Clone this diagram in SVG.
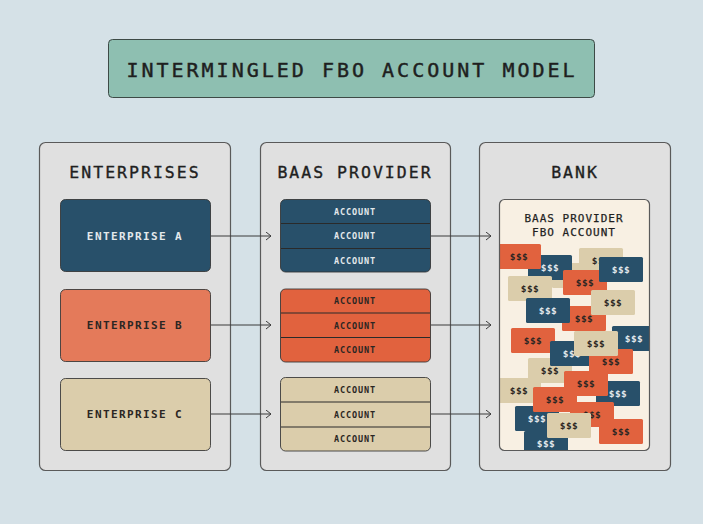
<svg xmlns="http://www.w3.org/2000/svg" width="703" height="524" viewBox="0 0 703 524">
<defs>
<style>
text{font-family:"DejaVu Sans Mono","Liberation Mono",monospace;text-anchor:middle}
.title{font-size:20px;letter-spacing:3px;fill:#1f1f1f;stroke:#1f1f1f;stroke-width:0.45}
.head{font-size:16.5px;letter-spacing:2px;fill:#1f1f1f;stroke:#1f1f1f;stroke-width:0.35}
.ent{font-size:11px;font-weight:bold;letter-spacing:1.4px}
.acc{font-size:8.5px;font-weight:bold;letter-spacing:0.9px}
.sub{font-size:11px;letter-spacing:1px;fill:#1f1f1f;stroke:#1f1f1f;stroke-width:0.25}
.cash{font-size:9.5px;font-weight:bold;letter-spacing:0.5px}
.panel{fill:#e0e0e0;stroke:#5a5a5a;stroke-width:1.2}
.blue{fill:#28506a}
.orange{fill:#e1623e}
.tan{fill:#dbcdab}
.entb{fill:#e47a5a}
.edge{stroke:#333;stroke-width:1;stroke-opacity:0.85}
.div{stroke:#2a2a2a;stroke-width:1.2}
.lt{fill:#e3e9ec}
.dk{fill:#2b2623}
.note rect{stroke:#3a3a3a;stroke-width:1;stroke-opacity:0.8}
.conn{stroke:#3a3a3a;stroke-width:1;fill:none}
</style>
<marker id="arr" markerUnits="userSpaceOnUse" markerWidth="8" markerHeight="10" refX="5" refY="4" orient="auto">
<path d="M0,0 L5,4 L0,8" fill="none" stroke="#3a3a3a" stroke-width="1"/>
</marker>
<clipPath id="bankclip"><rect x="499" y="199" width="151" height="252" rx="5"/></clipPath>
<g id="n-b"><rect width="44" height="25" rx="1.5" class="blue"/><text x="22" y="16" class="cash lt">$$$</text></g>
<g id="n-o"><rect width="44" height="25" rx="1.5" class="orange"/><text x="22" y="16" class="cash dk">$$$</text></g>
<g id="n-t"><rect width="44" height="25" rx="1.5" class="tan"/><text x="22" y="16" class="cash dk">$$$</text></g>
</defs>
<rect width="703" height="524" fill="#d5e1e7"/>

<g id="title">
<rect x="108.5" y="39.5" width="486" height="58" rx="4" fill="#8ebfb1" stroke="#3d4a46" stroke-width="1"/>
<text x="352" y="77" class="title">INTERMINGLED FBO ACCOUNT MODEL</text>
</g>

<g id="col-enterprises">
<rect x="39.5" y="142.5" width="191" height="328" rx="6" class="panel"/>
<text x="135" y="178" class="head">ENTERPRISES</text>
</g>
<g id="col-provider">
<rect x="260.5" y="142.5" width="190" height="328" rx="6" class="panel"/>
<text x="355" y="178" class="head">BAAS PROVIDER</text>
</g>
<g id="col-bank">
<rect x="479.5" y="142.5" width="191" height="328" rx="6" class="panel"/>
<text x="575" y="178" class="head">BANK</text>
</g>

<g id="enterprise-a">
<rect x="60.5" y="199.5" width="150" height="72" rx="5" class="blue edge"/>
<text x="135" y="240" class="ent lt">ENTERPRISE A</text>
</g>
<g id="enterprise-b">
<rect x="60.5" y="289.5" width="150" height="72" rx="5" class="entb edge"/>
<text x="135" y="329" class="ent dk">ENTERPRISE B</text>
</g>
<g id="enterprise-c">
<rect x="60.5" y="378.5" width="150" height="72" rx="5" class="tan edge"/>
<text x="135" y="418" class="ent dk">ENTERPRISE C</text>
</g>

<g id="accounts-a">
<rect x="280.5" y="199.5" width="150" height="72.5" rx="5" class="blue edge"/>
<line x1="281" y1="223.5" x2="430" y2="223.5" class="div"/>
<line x1="281" y1="248.5" x2="430" y2="248.5" class="div"/>
<text x="355" y="214.5" class="acc lt">ACCOUNT</text>
<text x="355" y="239" class="acc lt">ACCOUNT</text>
<text x="355" y="263.5" class="acc lt">ACCOUNT</text>
</g>
<g id="accounts-b">
<rect x="280.5" y="289" width="150" height="73" rx="5" class="orange edge"/>
<line x1="281" y1="313" x2="430" y2="313" class="div"/>
<line x1="281" y1="337.5" x2="430" y2="337.5" class="div"/>
<text x="355" y="304" class="acc dk">ACCOUNT</text>
<text x="355" y="328.5" class="acc dk">ACCOUNT</text>
<text x="355" y="353" class="acc dk">ACCOUNT</text>
</g>
<g id="accounts-c">
<rect x="280.5" y="377.5" width="150" height="73.5" rx="5" class="tan edge"/>
<line x1="281" y1="402" x2="430" y2="402" class="div"/>
<line x1="281" y1="427" x2="430" y2="427" class="div"/>
<text x="355" y="393" class="acc dk">ACCOUNT</text>
<text x="355" y="417.5" class="acc dk">ACCOUNT</text>
<text x="355" y="442" class="acc dk">ACCOUNT</text>
</g>

<g id="fbo-account">
<rect x="499.5" y="199.5" width="150" height="251" rx="5" fill="#f8f0e3"/>
<text x="574" y="221.5" class="sub">BAAS PROVIDER</text>
<text x="574" y="236" class="sub">FBO ACCOUNT</text>
<g clip-path="url(#bankclip)" class="note">
<use href="#n-t" x="552" y="263"/>
<use href="#n-b" x="528" y="255"/>
<use href="#n-o" x="497" y="244"/>
<use href="#n-t" x="579" y="248"/>
<use href="#n-o" x="563" y="270"/>
<use href="#n-b" x="599" y="257"/>
<use href="#n-t" x="508" y="276"/>
<use href="#n-o" x="562" y="306"/>
<use href="#n-b" x="526" y="298"/>
<use href="#n-t" x="591" y="290"/>
<use href="#n-o" x="511" y="328"/>
<use href="#n-b" x="612" y="326"/>
<use href="#n-t" x="497" y="378"/>
<use href="#n-t" x="528" y="358"/>
<use href="#n-b" x="550" y="341"/>
<use href="#n-o" x="589" y="349"/>
<use href="#n-t" x="574" y="331"/>
<use href="#n-b" x="596" y="381"/>
<use href="#n-o" x="564" y="371"/>
<use href="#n-o" x="570" y="402"/>
<use href="#n-b" x="515" y="406"/>
<use href="#n-o" x="533" y="387"/>
<use href="#n-b" x="524" y="431"/>
<use href="#n-t" x="547" y="413"/>
<use href="#n-o" x="599" y="419"/>
</g>
<rect x="499.5" y="199.5" width="150" height="251" rx="5" fill="none" stroke="#5a5a5a" stroke-width="1.2"/>
</g>

<g id="connectors" class="conn">
<line x1="211" y1="236" x2="271" y2="236" marker-end="url(#arr)"/>
<line x1="211" y1="325" x2="271" y2="325" marker-end="url(#arr)"/>
<line x1="211" y1="414" x2="271" y2="414" marker-end="url(#arr)"/>
<line x1="431" y1="236" x2="491" y2="236" marker-end="url(#arr)"/>
<line x1="431" y1="325" x2="491" y2="325" marker-end="url(#arr)"/>
<line x1="431" y1="414" x2="491" y2="414" marker-end="url(#arr)"/>
</g>
</svg>
